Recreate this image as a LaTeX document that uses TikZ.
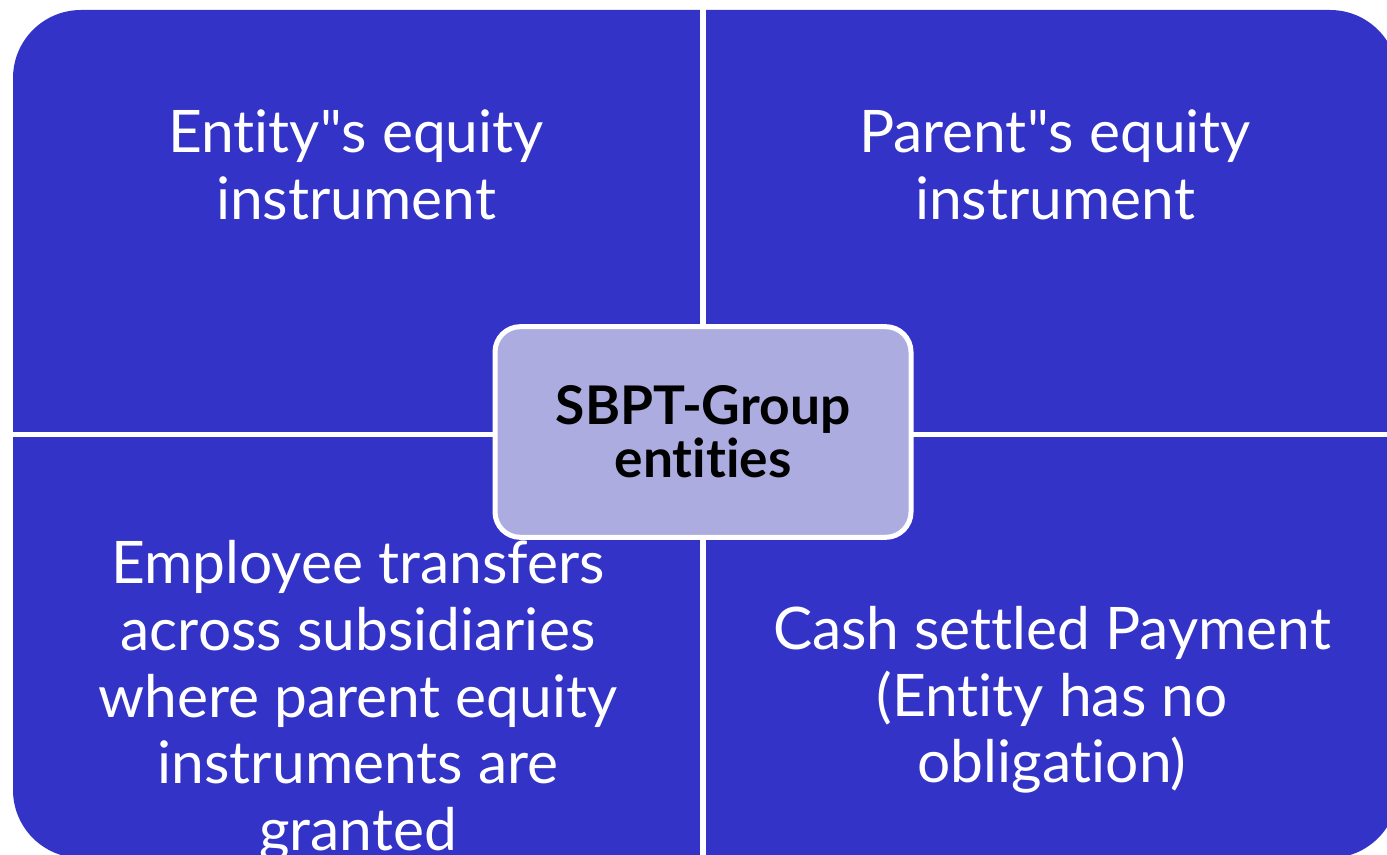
\documentclass[tikz,border=0pt]{standalone}
\usepackage{fontspec}
\setmainfont{Lato}[Ligatures={TeX,NoCommon}]
\newfontfamily\qfont{Lato}[Ligatures=NoCommon]
\usetikzlibrary{positioning}
\definecolor{quadblue}{RGB}{51,51,200}
\definecolor{hubfill}{RGB}{172,172,224}
\tikzset{
	quad/.style = {text=white, align=center, inner sep=0pt,
		font=\fontsize{44}{50}\selectfont},
	hub/.style  = {draw=white, line width=3.75pt, fill=hubfill,
		rounded corners=19pt, minimum width=312pt, minimum height=158pt,
		align=center, inner sep=0pt, font=\bfseries\fontsize{40}{40}\selectfont}
}
\newcommand{\dq}{{\qfont\symbol{34}}}

\begin{document}
\begin{tikzpicture}[x=0.75pt, y=-0.75pt]
	
	\useasboundingbox (0,0) rectangle (1387,855);
	\clip (0,0) rectangle (1387,855);
	
	% quadrants
	\fill[quadblue, rounded corners=51pt] (13,10) rectangle (1398,858);
	\fill[white] (700,0) rectangle (706,870);
	\fill[white] (0,432) rectangle (1400,437);
	
	\draw
	node at (356,165) [quad] (tl) {Entity\dq s equity\\instrument}
	node at (1055,165) [quad] (tr) {Parent\dq s equity\\instrument}
	node at (358,701) [quad] (bl) {Employee transfers\\across subsidiaries\\where parent equity\\instruments are\\granted}
	node at (1052,700) [quad] (br) {Cash settled Payment\\(Entity has no\\obligation)}
	node at (703,432) [hub] (hub) {SBPT-Group\\entities};
	
\end{tikzpicture}
\end{document}
